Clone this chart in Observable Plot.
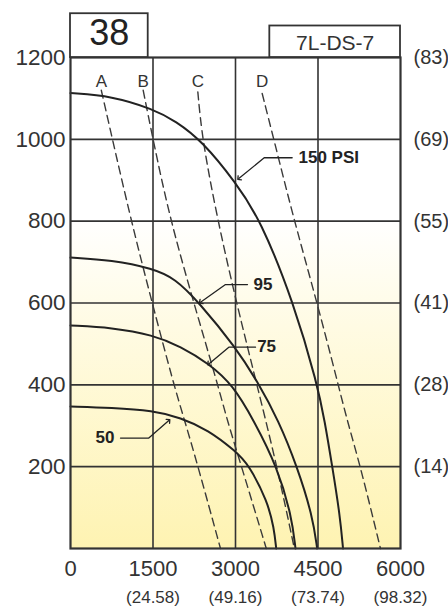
<!DOCTYPE html>
<html>
<head>
<meta charset="utf-8">
<script src="https://cdn.jsdelivr.net/npm/d3@7"></script>
<script src="https://cdn.jsdelivr.net/npm/@observablehq/plot@0.6"></script>
<style>
  html, body { margin: 0; padding: 0; background: #fff; }
  #chart svg { display: block; }
</style>
</head>
<body>
<div id="chart"></div>
<script>
// ---- tick values & labels ----
const xTicks = [0, 1500, 3000, 4500, 6000];
const xTicksSecondary = [1500, 3000, 4500, 6000];
const xLabelsSecondary = ["(24.58)", "(49.16)", "(73.74)", "(98.32)"];
const yTicks = [200, 400, 600, 800, 1000, 1200];
const yLabelsRight = ["(14)", "(28)", "(41)", "(55)", "(69)", "(83)"];
const gridXTicks = [1500, 3000, 4500];
const gridYTicks = [200, 400, 600, 800, 1000];

// ---- pressure curves (flow, pressure) ----
const psiNames = ["150 PSI", "95", "75", "50"];
const flow150 = [0, 750, 1500, 1910, 2400, 3000, 3450, 4060, 4490, 4620, 4760, 4900, 4955];
const press150 = [1113, 1106, 1074, 1045, 995, 895, 805, 600, 400, 313, 200, 80, 0];
const flow95 = [0, 750, 1500, 1900, 2333, 3000, 3400, 3782, 4121, 4400, 4485];
const press95 = [711, 705, 684, 660, 602, 492, 408, 313, 200, 80, 0];
const flow75 = [0, 750, 1500, 2000, 2515, 2950, 3333, 3757, 4020, 4091];
const press75 = [545, 540, 522, 494, 452, 400, 313, 200, 80, 0];
const flow50 = [0, 750, 1500, 2000, 2500, 3000, 3242, 3582, 3700, 3740];
const press50 = [347, 344, 337, 320, 290, 238, 205, 115, 50, 0];

// ---- dashed lines A-D ----
const lineNames = ["A", "B", "C", "D"];
const flowA = [560, 1075, 1485, 1879, 2075, 2320, 2727];
const pressA = [1120, 815, 600, 400, 313, 200, 0];
const flowB = [1321, 1500, 1800, 2242, 2679, 2850, 3110, 3560];
const pressB = [1120, 1000, 810, 600, 400, 313, 200, 0];
const flowC = [2315, 2394, 2679, 3018, 3390, 3757, 4070];
const pressC = [1116, 1000, 800, 600, 400, 200, 0];
const flowD = [3485, 3697, 4050, 4485, 4848, 5030, 5273, 5636];
const pressD = [1112, 1000, 810, 600, 411, 313, 200, 0];
const lineLabelPress = 1142;

// ---- callout labels and leaders ----
const psiLabelFlow = [4145, 3327, 3394, 455];
const psiLabelPress = [956, 645, 494, 272];
const leaderFlow = [[4030, 3522, 3060], [3218, 2818, 2364], [3364, 2879, 2515], [909, 1424, 1788]];
const leaderPress = [[955, 955, 904], [645, 645, 602], [492, 492, 451], [270, 270, 313]];

// ---- header boxes ----
const boxLabels = ["38", "7L-DS-7"];
const boxFlow1 = [0, 3624];
const boxFlow2 = [1413, 6000];
const boxPress1 = [1200, 1200];
const boxPress2 = [1307, 1277];
const boxTextPress = [1259, 1236];

// ---- build tables ----
function toRows(names, flows, presses) {
  const rows = [];
  names.forEach((name, i) => flows[i].forEach((f, j) => rows.push({series: name, flow: f, pressure: presses[i][j]})));
  return rows;
}
const curveRows = toRows(psiNames, [flow150, flow95, flow75, flow50], [press150, press95, press75, press50]);
const dashRows = toRows(lineNames, [flowA, flowB, flowC, flowD], [pressA, pressB, pressC, pressD]);
const leaderRows = toRows(psiNames, leaderFlow, leaderPress);
const psiLabelRows = psiNames.map((n, i) => ({text: n, flow: psiLabelFlow[i], pressure: psiLabelPress[i]}));
const lineLabelRows = lineNames.map((n, i) => ({text: n, flow: [flowA, flowB, flowC, flowD][i][0], pressure: lineLabelPress}));
const boxRows = boxLabels.map((b, i) => ({label: b, x1: boxFlow1[i], x2: boxFlow2[i], y1: boxPress1[i], y2: boxPress2[i], cx: (boxFlow1[i] + boxFlow2[i]) / 2, cy: boxTextPress[i]}));
const rightMap = new Map(yTicks.map((t, i) => [t, yLabelsRight[i]]));
const bottomMap = new Map(xTicksSecondary.map((t, i) => [t, xLabelsSecondary[i]]));

// background gradient inside the frame
function background(index, scales) {
  const [d0, d1] = [xTicks[0], xTicks[xTicks.length - 1]];
  const [p0, p1] = [0, yTicks[yTicks.length - 1]];
  const g = d3.create("svg:g");
  const lg = g.append("defs").append("linearGradient")
    .attr("id", "bgGrad").attr("x1", 0).attr("y1", 0).attr("x2", 0).attr("y2", 1);
  lg.append("stop").attr("offset", "0%").attr("stop-color", "#ffffff");
  lg.append("stop").attr("offset", "33%").attr("stop-color", "#ffffff");
  lg.append("stop").attr("offset", "55%").attr("stop-color", "#fffbe3");
  lg.append("stop").attr("offset", "100%").attr("stop-color", "#fef3b2");
  g.append("rect")
    .attr("x", scales.x(d0)).attr("y", scales.y(p1))
    .attr("width", scales.x(d1) - scales.x(d0))
    .attr("height", scales.y(p0) - scales.y(p1))
    .attr("fill", "url(#bgGrad)");
  return g.node();
}

const chart = Plot.plot({
  width: 448,
  height: 607,
  marginLeft: 70,
  marginRight: 48,
  marginTop: 57,
  marginBottom: 59,
  x: {domain: [0, 6000]},
  y: {domain: [0, 1200]},
  style: {fontFamily: "'Liberation Sans', Arial, sans-serif", color: "#333", background: "white", overflow: "visible"},
  marks: [
    background,
    Plot.gridX(gridXTicks, {stroke: "#333", strokeOpacity: 1, strokeWidth: 1.6}),
    Plot.gridY(gridYTicks, {stroke: "#333", strokeOpacity: 1, strokeWidth: 1.6}),
    Plot.line(dashRows, {x: "flow", y: "pressure", z: "series", curve: "basis", stroke: "#3a3a3a", strokeWidth: 1.4, strokeDasharray: "8,5"}),
    Plot.line(curveRows, {x: "flow", y: "pressure", z: "series", curve: "basis", stroke: "#222", strokeWidth: 2}),
    Plot.line(leaderRows, {x: "flow", y: "pressure", z: "series", stroke: "#222", strokeWidth: 1.3, markerEnd: "arrow"}),
    Plot.text(psiLabelRows, {x: "flow", y: "pressure", text: "text", textAnchor: "start", fontWeight: "bold", fontSize: 17, fill: "#222"}),
    Plot.text(lineLabelRows, {x: "flow", y: "pressure", text: "text", fontSize: 17, fill: "#333"}),
    Plot.frame({stroke: "#333", strokeWidth: 2.2}),
    Plot.rect(boxRows, {x1: "x1", x2: "x2", y1: "y1", y2: "y2", fill: "white", stroke: "#333", strokeWidth: 1.8}),
    Plot.text(boxRows.slice(0, 1), {x: "cx", y: "cy", text: "label", fontSize: 36, fill: "#222"}),
    Plot.text(boxRows.slice(1), {x: "cx", y: "cy", text: "label", fontSize: 21, fill: "#333"}),
    Plot.axisY(yTicks, {anchor: "left", tickSize: 0, tickPadding: 5, fontSize: 22.5, label: null, tickFormat: d => `${d}`}),
    Plot.axisY(yTicks, {anchor: "right", tickSize: 0, tickPadding: 13, fontSize: 20, label: null, tickFormat: d => rightMap.get(d)}),
    Plot.axisX(xTicks, {anchor: "bottom", tickSize: 0, tickPadding: 12, fontSize: 22, label: null, tickFormat: d => `${d}`}),
    Plot.axisX(xTicksSecondary, {anchor: "bottom", tickSize: 0, tickPadding: 42, fontSize: 17, label: null, tickFormat: d => bottomMap.get(d)})
  ]
});
document.getElementById("chart").appendChild(chart);
</script>
</body>
</html>
